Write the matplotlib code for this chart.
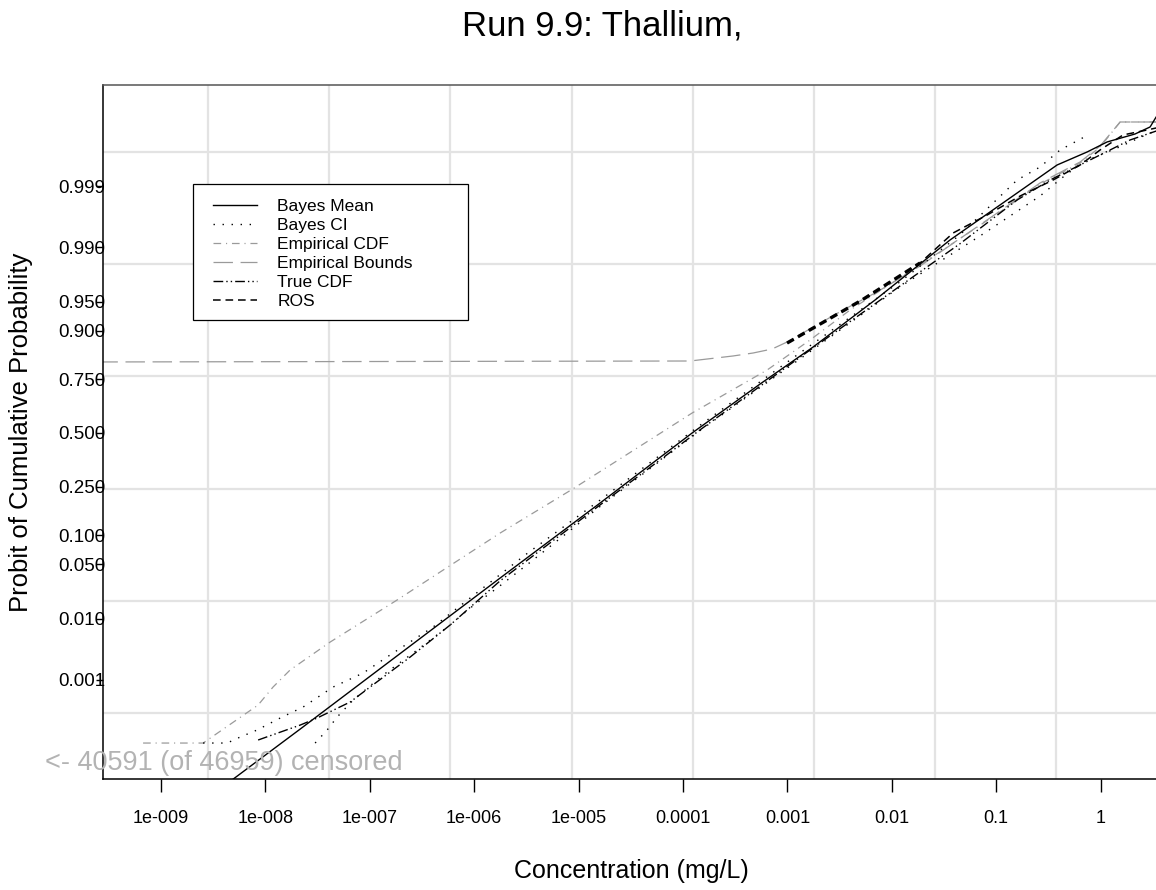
import numpy as np
import matplotlib
matplotlib.use("Agg")
import matplotlib.pyplot as plt
from matplotlib.patches import Rectangle
from statistics import NormalDist

plt.rcParams['font.family'] = ['Liberation Sans', 'DejaVu Sans']
plt.rcParams['lines.scale_dashes'] = False

# x values are log10(concentration, mg/L), y values are probits (z scores)
mean_logx = [-8.40, -7.667, -6.805, -5.752, -4.794, -3.913, -3.262, -2.754, -2.160,
             -1.442, -0.963, -0.417, -0.129, 0.062, 0.330, 0.474, 0.532, 0.589]
mean_z = [-4.42, -3.705, -2.854, -1.815, -0.876, 0.0, 0.613, 1.076, 1.665,
          2.416, 2.854, 3.354, 3.517, 3.642, 3.742, 3.830, 3.955, 4.04]

ci_hi_logx = [-8.597, -8.367, -8.242, -8.080, -7.859, -7.639, -7.352, -7.064, -6.806,
              -6.394, -6.039, -5.513, -4.794, -3.836, -2.878, -1.921, -1.346,
              -0.800, -0.580, -0.388, -0.120]
ci_hi_z = [-3.880, -3.880, -3.805, -3.717, -3.567, -3.429, -3.179, -3.004, -2.778,
           -2.428, -2.065, -1.527, -0.839, 0.098, 1.004, 1.892, 2.481,
           3.166, 3.329, 3.542, 3.730]

ci_lo_logx = [-7.524, -7.409, -7.313, -7.160, -6.873, -6.547, -6.231, -6.039, -5.781,
              -5.436, -4.794, -3.836, -2.878, -1.921, -1.155, -0.580, -0.359,
              -0.167, 0.158, 0.474, 0.570]
ci_lo_z = [-3.880, -3.717, -3.554, -3.342, -3.029, -2.716, -2.403, -2.190, -1.940,
           -1.589, -0.919, 0.032, 0.929, 1.830, 2.466, 2.966, 3.204,
           3.392, 3.567, 3.755, 3.792]

ecdf_logx = [-9.172, -8.597, -8.070, -7.927, -7.764, -7.380, -6.739, -5.752, -5.072,
             -3.913, -3.195, -2.783, -2.400, -1.729, -0.963, -0.580, -0.196,
             -0.005, 0.187, 0.70]
ecdf_z = [-3.880, -3.880, -3.404, -3.179, -2.966, -2.616, -2.090, -1.252, -0.713,
          0.250, 0.788, 1.164, 1.539, 2.103, 2.766, 3.116, 3.379,
          3.579, 3.892, 3.892]

bounds_logx = [-9.60, -3.932, -3.520, -3.329, -3.147, -3.003, -2.467, -2.141, -1.729,
               -0.963, -0.580, -0.196, -0.005, 0.187, 0.70]
bounds_z = [0.889, 0.901, 0.964, 1.001, 1.051, 1.139, 1.539, 1.765, 2.090,
            2.778, 3.129, 3.392, 3.592, 3.892, 3.892]

true_logx = [-8.070, -7.667, -7.505, -7.189, -6.921, -6.614, -6.231, -5.752, -4.794,
             -3.836, -2.878, -1.921, -1.346, -0.800, -0.484, -0.101, 0.282, 0.618]
true_z = [-3.842, -3.655, -3.567, -3.367, -3.104, -2.804, -2.403, -1.850, -0.900,
          0.040, 0.950, 1.840, 2.370, 2.916, 3.166, 3.417, 3.667, 3.817]

ros_logx = [-3.003, -2.285, -1.729, -1.413, -1.087, -0.771, -0.455, -0.196, -0.005,
            0.215, 0.445, 0.618]
ros_z = [1.126, 1.665, 2.128, 2.503, 2.728, 2.966, 3.166, 3.354, 3.542,
         3.730, 3.792, 3.842]

xtick_vals = [1e-9, 1e-8, 1e-7, 1e-6, 1e-5, 1e-4, 1e-3, 1e-2, 1e-1, 1]
xtick_labels = ['1e-009', '1e-008', '1e-007', '1e-006', '1e-005',
                '0.0001', '0.001', '0.01', '0.1', '1']
ytick_probs = [0.001, 0.01, 0.05, 0.1, 0.25, 0.5, 0.75, 0.9, 0.95, 0.99, 0.999]
ytick_labels = ['0.001', '0.010', '0.050', '0.100', '0.250', '0.500',
                '0.750', '0.900', '0.950', '0.990', '0.999']

xgrid_log = [-8.553, -7.395, -6.236, -5.067, -3.908, -2.749, -1.590, -0.431]
ygrid_z = [-3.504, -2.103, -0.701, 0.713, 2.115, 3.517]

W, H = 1156, 890
fig = plt.figure(figsize=(W / 100, H / 100), dpi=100)
ax = fig.add_axes([103 / W, 111 / H, 1070.7 / W, 694 / H])

ax.set_xscale('log')
ax.set_xlim(10 ** -9.556, 10 ** 0.70)
ax.set_ylim(-4.330, 4.355)

grid_c = '#e3e3e3'
for g in xgrid_log:
    ax.axvline(10 ** g, color=grid_c, lw=1.6, zorder=0)
for g in ygrid_z:
    ax.axhline(g, color=grid_c, lw=1.6, zorder=0)

def X(v):
    return 10 ** np.array(v)

gray = '#9a9a9a'
ax.plot(X(bounds_logx), bounds_z, color=gray, lw=0.9, dashes=(14, 5.5),
        label='Empirical Bounds', zorder=2)
ax.plot(X(ecdf_logx), ecdf_z, color=gray, lw=0.9, dashes=(5.5, 3.5, 0.8, 3.5),
        label='Empirical CDF', zorder=2)
ax.plot(X(mean_logx), mean_z, color='black', lw=1.0, label='Bayes Mean', zorder=3)
ax.plot(X(ci_hi_logx), ci_hi_z, color='black', lw=1.0, dashes=(1.0, 5.5),
        label='Bayes CI', zorder=3)
ax.plot(X(ci_lo_logx), ci_lo_z, color='black', lw=1.0, dashes=(1.0, 5.5), zorder=3)
ax.plot(X(true_logx), true_z, color='black', lw=1.0,
        dashes=(7, 2.2, 1, 2.2, 1, 2.2), label='True CDF', zorder=3)
ax.plot(X(ros_logx), ros_z, color='black', lw=1.1, dashes=(5.5, 3.5),
        label='ROS', zorder=3)
ax.plot(X(ros_logx[:3]), ros_z[:3], color='black', lw=2.4, dashes=(5.5, 3.5), zorder=3)

ax.set_xticks(xtick_vals)
ax.set_xticklabels(xtick_labels)
ax.xaxis.set_minor_locator(matplotlib.ticker.NullLocator())
ytick_z = [NormalDist().inv_cdf(p) for p in ytick_probs]
ax.set_yticks(ytick_z)
ax.set_yticklabels(ytick_labels)

ax.tick_params(axis='x', direction='out', length=9.5, width=1.0, pad=13,
               labelsize=13, color='black')
ax.tick_params(axis='y', direction='out', length=5, width=1.0, pad=-6.5,
               labelsize=13.5, color='black')

for s in ['left', 'bottom']:
    ax.spines[s].set_color('black')
    ax.spines[s].set_linewidth(1.1)
ax.spines['top'].set_color('#555555')
ax.spines['top'].set_linewidth(1.1)
ax.spines['right'].set_visible(False)

# legend with a wide R-style box
box = Rectangle((193 / W, 1 - 320 / H), 275 / W, 136 / H, transform=fig.transFigure,
                facecolor='white', edgecolor='black', lw=0.9, zorder=4)
ax.add_patch(box)
box.set_clip_on(False)
order = ['Bayes Mean', 'Bayes CI', 'Empirical CDF', 'Empirical Bounds', 'True CDF', 'ROS']
handles, labels = ax.get_legend_handles_labels()
hmap = dict(zip(labels, handles))
leg = ax.legend([hmap[k] for k in order], order, loc='upper left',
                bbox_to_anchor=(213 / W, 1 - 198.5 / H), bbox_transform=fig.transFigure,
                frameon=False, fontsize=12.5, handlelength=2.55, handletextpad=1.15,
                labelspacing=0.225, borderpad=0, borderaxespad=0)
leg.set_zorder(5)

fig.text(602 / W, 1 - 36 / H, 'Run 9.9: Thallium,', ha='center', va='baseline', fontsize=25)
fig.text(631 / W, 1 - 878 / H, 'Concentration (mg/L)', ha='center', va='baseline',
         fontsize=18)
fig.text(21 / W, 1 - 432 / H, 'Probit of Cumulative Probability', ha='center',
         va='center', rotation=90, fontsize=18.5)
fig.text(45 / W, 1 - 770 / H, '<- 40591 (of 46959) censored', ha='left',
         va='baseline', fontsize=19.5, color='#b3b3b3')

fig.savefig('out.png', dpi=100)
